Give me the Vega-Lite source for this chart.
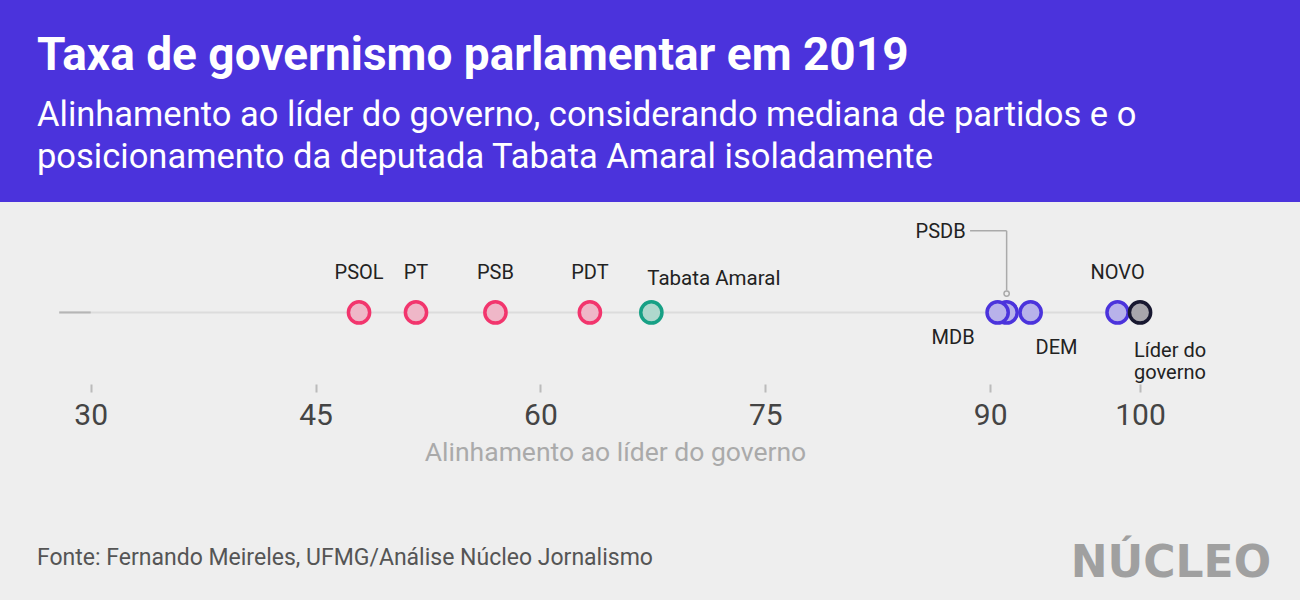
{
  "$schema": "https://vega.github.io/schema/vega-lite/v6.json",
  "width": 1300,
  "height": 600,
  "autosize": {"type": "fit", "contains": "padding"},
  "padding": {"top": 32, "left": 0, "right": 0, "bottom": 0},
  "background": "#4b33dc",
  "title": {
    "text": "Taxa de governismo parlamentar em 2019",
    "subtitle": ["Alinhamento ao líder do governo, considerando mediana de partidos e o", "posicionamento da deputada Tabata Amaral isoladamente"],
    "anchor": "start",
    "frame": "group",
    "dx": 37,
    "color": "#ffffff",
    "subtitleColor": "#ffffff",
    "font": "Roboto",
    "fontSize": 46,
    "fontWeight": 700,
    "subtitleFont": "Roboto",
    "subtitleFontSize": 34.5,
    "subtitleFontWeight": 400,
    "subtitleLineHeight": 42,
    "subtitlePadding": 19,
    "offset": 27
  },
  "config": {
    "view": {"fill": "#eeeeee", "stroke": null},
    "text": {"font": "Roboto"}
  },
  "data": {
    "values": [
      {"partido": "PSDB", "rotulo": "PSDB", "alinhamento": 91.1, "grupo": "governo"},
      {"partido": "PSOL", "rotulo": "PSOL", "alinhamento": 47.9, "grupo": "oposicao"},
      {"partido": "PT", "rotulo": "PT", "alinhamento": 51.7, "grupo": "oposicao"},
      {"partido": "PSB", "rotulo": "PSB", "alinhamento": 57.0, "grupo": "oposicao"},
      {"partido": "PDT", "rotulo": "PDT", "alinhamento": 63.3, "grupo": "oposicao"},
      {"partido": "Tabata Amaral", "rotulo": "Tabata Amaral", "alinhamento": 67.4, "grupo": "tabata"},
      {"partido": "MDB", "rotulo": "MDB", "alinhamento": 90.5, "grupo": "governo"},
      {"partido": "DEM", "rotulo": "DEM", "alinhamento": 92.7, "grupo": "governo"},
      {"partido": "NOVO", "rotulo": "NOVO", "alinhamento": 98.5, "grupo": "governo"},
      {"partido": "Líder do governo", "rotulo": "Líder do\ngoverno", "alinhamento": 100, "grupo": "lider"}
    ]
  },
  "layer": [
    {
      "data": {"values": [{"inicio": 27.9, "fim": 100}]},
      "mark": {"type": "rule", "color": "#dcdcdc", "strokeWidth": 2},
      "encoding": {
        "x": {
          "field": "inicio",
          "type": "quantitative",
          "scale": {"domain": [23.95, 110.67], "nice": false, "zero": false},
          "axis": {
            "title": "Alinhamento ao líder do governo",
            "values": [30, 45, 60, 75, 90, 100],
            "orient": "bottom",
            "offset": -216,
            "domain": false,
            "grid": false,
            "ticks": true,
            "tickColor": "#bbbbbb",
            "tickSize": 8,
            "tickWidth": 2,
            "labelFont": "Roboto",
            "labelFontSize": 30,
            "labelColor": "#444444",
            "labelPadding": 8,
            "titleFont": "Roboto",
            "titleFontSize": 26.5,
            "titleFontWeight": 400,
            "titleColor": "#aaaaaa",
            "titlePadding": 9,
            "titleX": 615
          }
        },
        "x2": {"field": "fim"},
        "y": {"datum": 0, "type": "quantitative", "scale": {"domain": [-2.89, 1.11], "nice": false, "zero": false}, "axis": null}
      }
    },
    {
      "data": {"values": [{"inicio": 27.9, "fim": 30}]},
      "mark": {"type": "rule", "color": "#b5b5b5", "strokeWidth": 2},
      "encoding": {
        "x": {"field": "inicio", "type": "quantitative"},
        "x2": {"field": "fim"},
        "y": {"datum": 0, "type": "quantitative"}
      }
    },
    {
      "transform": [{"filter": "datum.partido === 'PSDB'"}],
      "mark": {"type": "rule", "color": "#aaaaaa", "strokeWidth": 1.5},
      "encoding": {
        "x": {"field": "alinhamento", "type": "quantitative"},
        "x2": {"datum": 88.66},
        "y": {"datum": 0.82, "type": "quantitative"}
      }
    },
    {
      "transform": [{"filter": "datum.partido === 'PSDB'"}],
      "mark": {"type": "rule", "color": "#aaaaaa", "strokeWidth": 1.5},
      "encoding": {
        "x": {"field": "alinhamento", "type": "quantitative"},
        "y": {"datum": 0.82, "type": "quantitative"},
        "y2": {"datum": 0.22}
      }
    },
    {
      "transform": [{"filter": "datum.partido === 'PSDB'"}],
      "mark": {"type": "point", "shape": "circle", "filled": false, "fill": "#eeeeee", "stroke": "#aaaaaa", "strokeWidth": 1.5, "size": 28, "opacity": 1},
      "encoding": {
        "x": {"field": "alinhamento", "type": "quantitative"},
        "y": {"datum": 0.19, "type": "quantitative"}
      }
    },
    {
      "mark": {"type": "point", "shape": "circle", "filled": true, "strokeWidth": 3.5, "size": 449, "opacity": 1},
      "encoding": {
        "x": {"field": "alinhamento", "type": "quantitative"},
        "y": {"datum": 0, "type": "quantitative"},
        "fill": {
          "field": "grupo", "type": "nominal", "legend": null,
          "scale": {"domain": ["oposicao", "tabata", "governo", "lider"], "range": ["#efb7c8", "#afd8cd", "#b8b2ea", "#a8a6ac"]}
        },
        "stroke": {
          "field": "grupo", "type": "nominal", "legend": null,
          "scale": {"domain": ["oposicao", "tabata", "governo", "lider"], "range": ["#f2356d", "#17a085", "#4b33dc", "#181830"]}
        }
      }
    },
    {
      "transform": [{"filter": {"field": "partido", "oneOf": ["PSOL", "PT", "PSB", "PDT", "NOVO"]}}],
      "mark": {"type": "text", "align": "center", "baseline": "alphabetic", "dy": -33, "fontSize": 20, "color": "#222222"},
      "encoding": {
        "x": {"field": "alinhamento", "type": "quantitative"},
        "y": {"datum": 0, "type": "quantitative"},
        "text": {"field": "rotulo", "type": "nominal"}
      }
    },
    {
      "transform": [{"filter": "datum.partido === 'Tabata Amaral'"}],
      "mark": {"type": "text", "align": "left", "baseline": "alphabetic", "dx": -4, "dy": -27, "fontSize": 20.5, "color": "#222222"},
      "encoding": {
        "x": {"field": "alinhamento", "type": "quantitative"},
        "y": {"datum": 0, "type": "quantitative"},
        "text": {"field": "rotulo", "type": "nominal"}
      }
    },
    {
      "transform": [{"filter": "datum.partido === 'MDB'"}],
      "mark": {"type": "text", "align": "right", "baseline": "alphabetic", "dx": -23, "dy": 32, "fontSize": 20, "color": "#222222"},
      "encoding": {
        "x": {"field": "alinhamento", "type": "quantitative"},
        "y": {"datum": 0, "type": "quantitative"},
        "text": {"field": "rotulo", "type": "nominal"}
      }
    },
    {
      "transform": [{"filter": "datum.partido === 'DEM'"}],
      "mark": {"type": "text", "align": "left", "baseline": "alphabetic", "dx": 5, "dy": 42, "fontSize": 20, "color": "#222222"},
      "encoding": {
        "x": {"field": "alinhamento", "type": "quantitative"},
        "y": {"datum": 0, "type": "quantitative"},
        "text": {"field": "rotulo", "type": "nominal"}
      }
    },
    {
      "transform": [{"filter": "datum.partido === 'Líder do governo'"}],
      "mark": {"type": "text", "align": "left", "baseline": "alphabetic", "dx": -6, "dy": 45, "fontSize": 20, "lineHeight": 22, "lineBreak": "\n", "color": "#222222"},
      "encoding": {
        "x": {"field": "alinhamento", "type": "quantitative"},
        "y": {"datum": 0, "type": "quantitative"},
        "text": {"field": "rotulo", "type": "nominal"}
      }
    },
    {
      "transform": [{"filter": "datum.partido === 'PSDB'"}],
      "mark": {"type": "text", "align": "right", "baseline": "alphabetic", "dx": -41, "dy": -74, "fontSize": 20, "color": "#222222"},
      "encoding": {
        "x": {"field": "alinhamento", "type": "quantitative"},
        "y": {"datum": 0, "type": "quantitative"},
        "text": {"field": "rotulo", "type": "nominal"}
      }
    },
    {
      "data": {"values": [{"fonte": "Fonte: Fernando Meireles, UFMG/Análise Núcleo Jornalismo"}]},
      "mark": {"type": "text", "align": "left", "baseline": "middle", "fontSize": 23, "color": "#555555"},
      "encoding": {
        "x": {"datum": 26.42, "type": "quantitative"},
        "y": {"datum": -2.47, "type": "quantitative"},
        "text": {"field": "fonte", "type": "nominal"}
      }
    },
    {
      "data": {"values": [{"marca": "NÚCLEO"}]},
      "mark": {"type": "text", "align": "right", "baseline": "middle", "font": "DejaVu Sans", "fontWeight": 700, "fontSize": 44, "color": "#a0a0a0"},
      "encoding": {
        "x": {"datum": 108.74, "type": "quantitative"},
        "y": {"datum": -2.53, "type": "quantitative"},
        "text": {"field": "marca", "type": "nominal"}
      }
    }
  ]
}
